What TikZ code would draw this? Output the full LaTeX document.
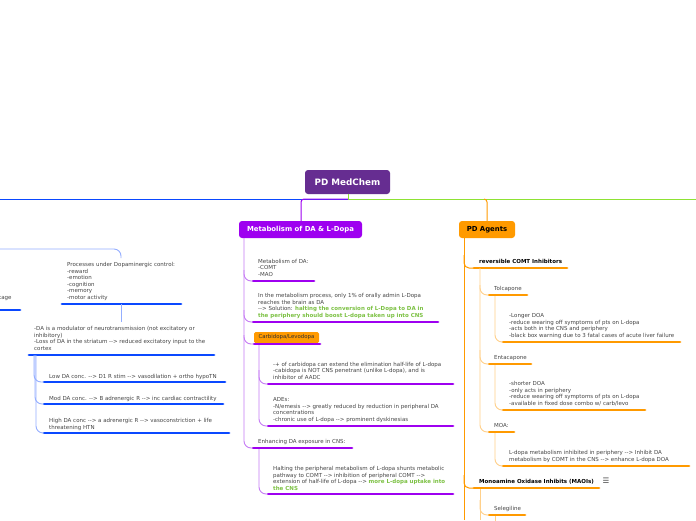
\documentclass[tikz,border=0pt]{standalone}
\usepackage{fontspec}
\setmainfont{DejaVu Sans}[Ligatures=TeXOff]
\definecolor{rootpurple}{HTML}{662D91}
\definecolor{vio}{HTML}{9E00F0}
\definecolor{lvio}{HTML}{C67CF5}
\definecolor{blu}{HTML}{0A48FF}
\definecolor{lblu}{HTML}{94AEFF}
\definecolor{org}{HTML}{FF9A00}
\definecolor{lorg}{HTML}{FFD08A}
\definecolor{grn}{HTML}{8EE234}
\definecolor{grntxt}{HTML}{7CC143}
\definecolor{txtgray}{HTML}{454545}
\begin{document}
\begin{tikzpicture}[x=1pt,y=-1pt,
  txt/.style={inner sep=0pt, anchor=base west, align=left, font=\fontsize{5.5}{6.5}\selectfont, text=txtgray},
  btxt/.style={txt, font=\fontsize{5.5}{6.5}\selectfont\bfseries, text=black},
  ulb/.style={draw=blu, line width=2.8pt, line cap=round},
  ulv/.style={draw=vio, line width=2.8pt, line cap=round},
  ulo/.style={draw=org, line width=2.8pt, line cap=round},
  cb/.style={draw=lblu, line width=0.9pt, rounded corners=7pt},
  cv/.style={draw=lvio, line width=0.9pt, rounded corners=7pt},
  co/.style={draw=lorg, line width=0.9pt, rounded corners=7pt},
  cmain/.style={line width=1pt, rounded corners=3pt},
  topic/.style={rounded corners=3pt, inner sep=0pt, font=\fontsize{6.9}{8}\selectfont\bfseries}]
\useasboundingbox (0,0) rectangle (696,520);
\fill[white] (0,0) rectangle (696,520);

% ---------- root ----------
\node[topic, fill=rootpurple, text=white, minimum width=85pt, minimum height=24pt,
      font=\fontsize{8.8}{10}\selectfont\bfseries] (root) at (347.5,182) {PD MedChem};
\coordinate (rj) at (348,199);
\draw[grn, line width=1pt] (root.south -| rj) -- (rj);
\draw[blu, line width=1pt] (rj) -- (0,199);
\draw[grn, line width=1pt] (rj) -- (696,199);

% ---------- main topics ----------
\node[topic, fill=vio, text=white, minimum width=123pt, minimum height=17pt] (met) at (300.5,229.5) {Metabolism of DA \& L-Dopa};
\node[topic, fill=org, text=black, minimum width=56pt, minimum height=17pt] (agt) at (487,229.5) {PD Agents};
\draw[vio, cmain] (rj) -- (301,199) -- (met.north -| 301,0);
\draw[org, cmain] (484,199) -- (487,199) -- (agt.north);

% ---------- left (blue) ----------
\node[txt] (proc) at (67,299) {Processes under Dopaminergic control:\\-reward\\-emotion\\-cognition\\-memory\\-motor activity};
\coordinate (procA) at (62,304); \coordinate (procB) at (181,304);
\draw[ulb] (procA) -- (procB);
\draw[cb] (0,249) -- (121,249) -- (121,258);
\node[txt] (tage) at (-1,299) {tage};
\draw[ulb] (-5,310) -- (20,310);

\node[txt] (mod) at (34,350) {-DA is a modulator of neurotransmission (not excitatory or\\inhibitory)\\-Loss of DA in the striatum --> reduced excitatory input to the\\cortex};
\coordinate (modA) at (29,355); \coordinate (modB) at (214,355);
\draw[ulb] (modA) -- (modB);
\draw[cb] (121,304) -- (121,322);

\node[txt] (low) at (49,378) {Low DA conc. --> D1 R stim --> vasodilation + ortho hypoTN};
\coordinate (lowA) at (44,382); \draw[ulb] (lowA) -- (225,382);
\node[txt] (modr) at (49,400) {Mod DA conc. --> B adrenergic R --> inc cardiac contractility};
\coordinate (modrA) at (44,404); \draw[ulb] (modrA) -- (223,404);
\node[txt] (high) at (49,429) {High DA conc --> a adrenergic R --> vasoconstriction + life\\threatening HTN};
\coordinate (highA) at (44,433); \draw[ulb] (highA) -- (229,433);
\draw[cb] (34,355) -- (34,382) -- (lowA);
\draw[cb] (35,355) -- (35,404) -- (modrA);
\draw[cb] (36,355) -- (36,433) -- (highA);

% ---------- middle (purple) ----------
\node[txt] (mda) at (258,276) {Metabolism of DA:\\-COMT\\-MAO};
\coordinate (mdaA) at (253,281); \draw[ulv] (mdaA) -- (314,281);
\node[txt] (proc2) at (258,317) {In the metabolism process, only 1\% of orally admin L-Dopa\\reaches the brain as DA\\--> Solution: {\color{grntxt}\bfseries halting the conversion of L-Dopa to DA in}\\{\color{grntxt}\bfseries the periphery should boost L-dopa taken up into CNS}};
\coordinate (proc2A) at (253,322); \draw[ulv] (proc2A) -- (438,322);
\node[rounded corners=1.5pt, fill=org, inner sep=0pt, minimum width=65pt, minimum height=11pt,
      font=\fontsize{5.4}{6}\selectfont, text=txtgray!70!black] (carb) at (286.5,337.5) {Carbidopa/Levodopa};
\coordinate (carbA) at (254,344); \draw[ulv] (carbA) -- (320,344);
\node[txt] (cd1) at (273,379) {-+ of carbidopa can extend the elimination half-life of L-dopa\\-cabidopa is NOT CNS penetrant (unlike L-dopa), and is\\inhibitor of AADC};
\coordinate (cd1A) at (268,384); \draw[ulv] (cd1A) -- (453,384);
\node[txt] (ade) at (273,421) {ADEs:\\-N/emesis --> greatly reduced by reduction in peripheral DA\\concentrations\\-chronic use of L-dopa --> prominent dyskinesias};
\coordinate (adeA) at (268,426); \draw[ulv] (adeA) -- (453,426);
\node[txt] (enh) at (258,443) {Enhancing DA exposure in CNS:};
\coordinate (enhA) at (253,448); \draw[ulv] (enhA) -- (352,448);
\node[txt] (halt) at (273,490) {Halting the peripheral metabolism of L-dopa shunts metabolic\\pathway to COMT --> inhibition of peripheral COMT -->\\extension of half-life of L-dopa --> {\color{grntxt}\bfseries more L-dopa uptake into}\\{\color{grntxt}\bfseries the CNS}};
\coordinate (haltA) at (268,494); \draw[ulv] (haltA) -- (453,494);

\draw[cv] (met.south -| 244,0) -- (244,281) -- (mdaA);
\draw[cv] (244,270) -- (244,322) -- (proc2A);
\draw[cv] (244,310) -- (244,344) -- (carbA);
\draw[cv] (244,335) -- (244,448) -- (enhA);
\draw[cv] (259,345) -- (259,384) -- (cd1A);
\draw[cv] (259,370) -- (259,426) -- (adeA);
\draw[cv] (259,449) -- (259,494) -- (haltA);

% ---------- right (orange) ----------
\draw[org, line width=1pt] (agt.south -| 464,0) -- (464,520);
\node[btxt] (rev) at (479,263) {reversible COMT Inhibitors};
\coordinate (revA) at (474,268); \draw[ulo] (revA) -- (567,268);
\draw[org, line width=1pt, rounded corners=5pt] (464,255) -- (464,268) -- (revA);

\node[txt] (tol) at (494,290) {Tolcapone};
\coordinate (tolA) at (489,295); \draw[ulo] (tolA) -- (527,295);
\node[txt] (told) at (509,337) {-Longer DOA\\-reduce wearing off symptoms of pts on L-dopa\\-acts both in the CNS and periphery\\-black box warning due to 3 fatal cases of acute liver failure};
\coordinate (toldA) at (503,342); \draw[ulo] (toldA) -- (680,342);

\node[txt] (ent) at (494,359) {Entacapone};
\coordinate (entA) at (489,364); \draw[ulo] (entA) -- (531,364);
\node[txt] (entd) at (509,405) {-shorter DOA\\-only acts in periphery\\-reduce wearing off symptoms of pts on L-dopa\\-available in fixed dose combo w/ carb/levo};
\coordinate (entdA) at (503,410); \draw[ulo] (entdA) -- (645,410);

\node[txt] (moa) at (494,427) {MOA:};
\coordinate (moaA) at (489,432); \draw[ulo] (moaA) -- (514,432);
\node[txt] (moad) at (509,461) {L-dopa metabolism inhibited in periphery --> Inhibit DA\\metabolism by COMT in the CNS --> enhance L-dopa DOA};
\coordinate (moadA) at (503,466); \draw[ulo] (moadA) -- (689,466);

\draw[co] (480,268) -- (480,295) -- (tolA);
\draw[co] (480,285) -- (480,364) -- (entA);
\draw[co] (480,350) -- (480,432) -- (moaA);
\draw[co] (495,296) -- (495,342) -- (toldA);
\draw[co] (495,365) -- (495,410) -- (entdA);
\draw[co] (495,433) -- (495,466) -- (moadA);

\node[btxt] (mao) at (479,483) {Monoamine Oxidase Inhibits (MAOIs)};
\node[inner sep=0pt, font=\fontsize{7.5}{8}\selectfont, text=txtgray] (menu) at (606,481) {☰};
\coordinate (maoA) at (474,488); \draw[ulo] (maoA) -- (599,488);
\draw[org, line width=1pt, rounded corners=5pt] (464,475) -- (464,488) -- (maoA);
\node[txt] (sel) at (494,510) {Selegiline};
\coordinate (selA) at (489,515); \draw[ulo] (selA) -- (525,515);
\draw[co] (480,489) -- (480,520);
\draw[co] (480,500) -- (480,515) -- (selA);
\draw[co] (495,516) -- (495,521);
\end{tikzpicture}
\end{document}
